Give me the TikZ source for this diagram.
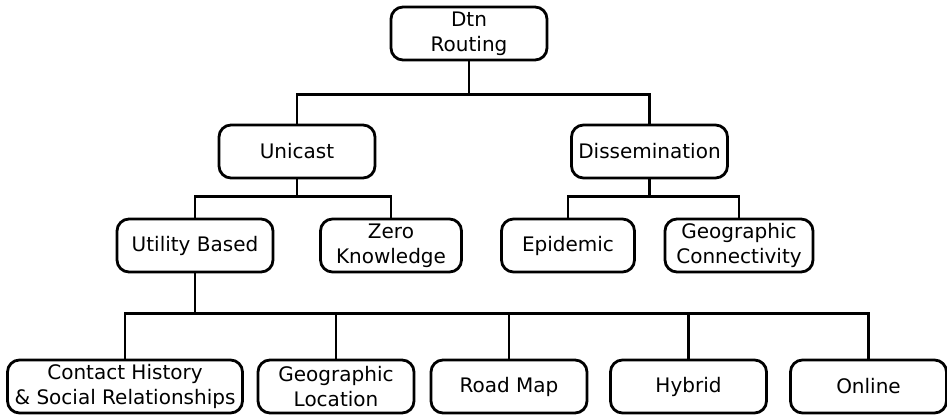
\documentclass[tikz,border=0pt]{standalone}
\usepackage{fontspec}
\setmainfont{DejaVu Sans}
\usepackage{tikz}
\usetikzlibrary{positioning, calc}

\begin{document}
\begin{tikzpicture}[
    x=1pt, y=-1pt,
    box/.style={rectangle, draw=black, fill=white, line width=2.8pt, rounded corners=12pt, minimum width=156pt, minimum height=53pt, align=center, inner sep=2pt, font=\fontsize{20pt}{25pt}\selectfont},
    link/.style={draw=black, line width=2.8pt}
]
    \useasboundingbox (0,0) rectangle (947,415);

    % top level
    \node[box] (root) at (469,33.5) {Dtn\\Routing};

    % second level
    \node[box] (unicast) at (297,151.5) {Unicast};
    \node[box] (dissem) at (649.5,151.5) {Dissemination};

    % third level
    \node[box] (utility) at (195,245.5) {Utility Based};
    \node[box, minimum width=141pt] (zero) at (391,245.5) {Zero\\Knowledge};
    \node[box, minimum width=133pt] (epidemic) at (568,245.5) {Epidemic};
    \node[box, minimum width=148pt] (geoconn) at (739,245.5) {Geographic\\Connectivity};

    % leaves
    \node[box, minimum width=235pt] (contact) at (125,386.5) {Contact History\\\& Social Relationships};
    \node[box] (geoloc) at (336,386.5) {Geographic\\Location};
    \node[box] (roadmap) at (509,386.5) {Road Map};
    \node[box] (hybrid) at (688.5,386.5) {Hybrid};
    \node[box] (online) at (868.5,386.5) {Online};

    \draw[link] (root.south) -- ++(0,33) -| (unicast.north);
    \draw[link] (root.south) -- ++(0,33) -| (dissem.north);
    \draw[link] (unicast.south) -- ++(0,17) -| (utility.north);
    \draw[link] (unicast.south) -- ++(0,17) -| (zero.north);
    \draw[link] (dissem.south) -- ++(0,17) -| (epidemic.north);
    \draw[link] (dissem.south) -- ++(0,17) -| (geoconn.north);
    \foreach \leaf in {contact, geoloc, roadmap, hybrid, online}
        \draw[link] (utility.south) -- ++(0,40) -| (\leaf.north);
\end{tikzpicture}
\end{document}
